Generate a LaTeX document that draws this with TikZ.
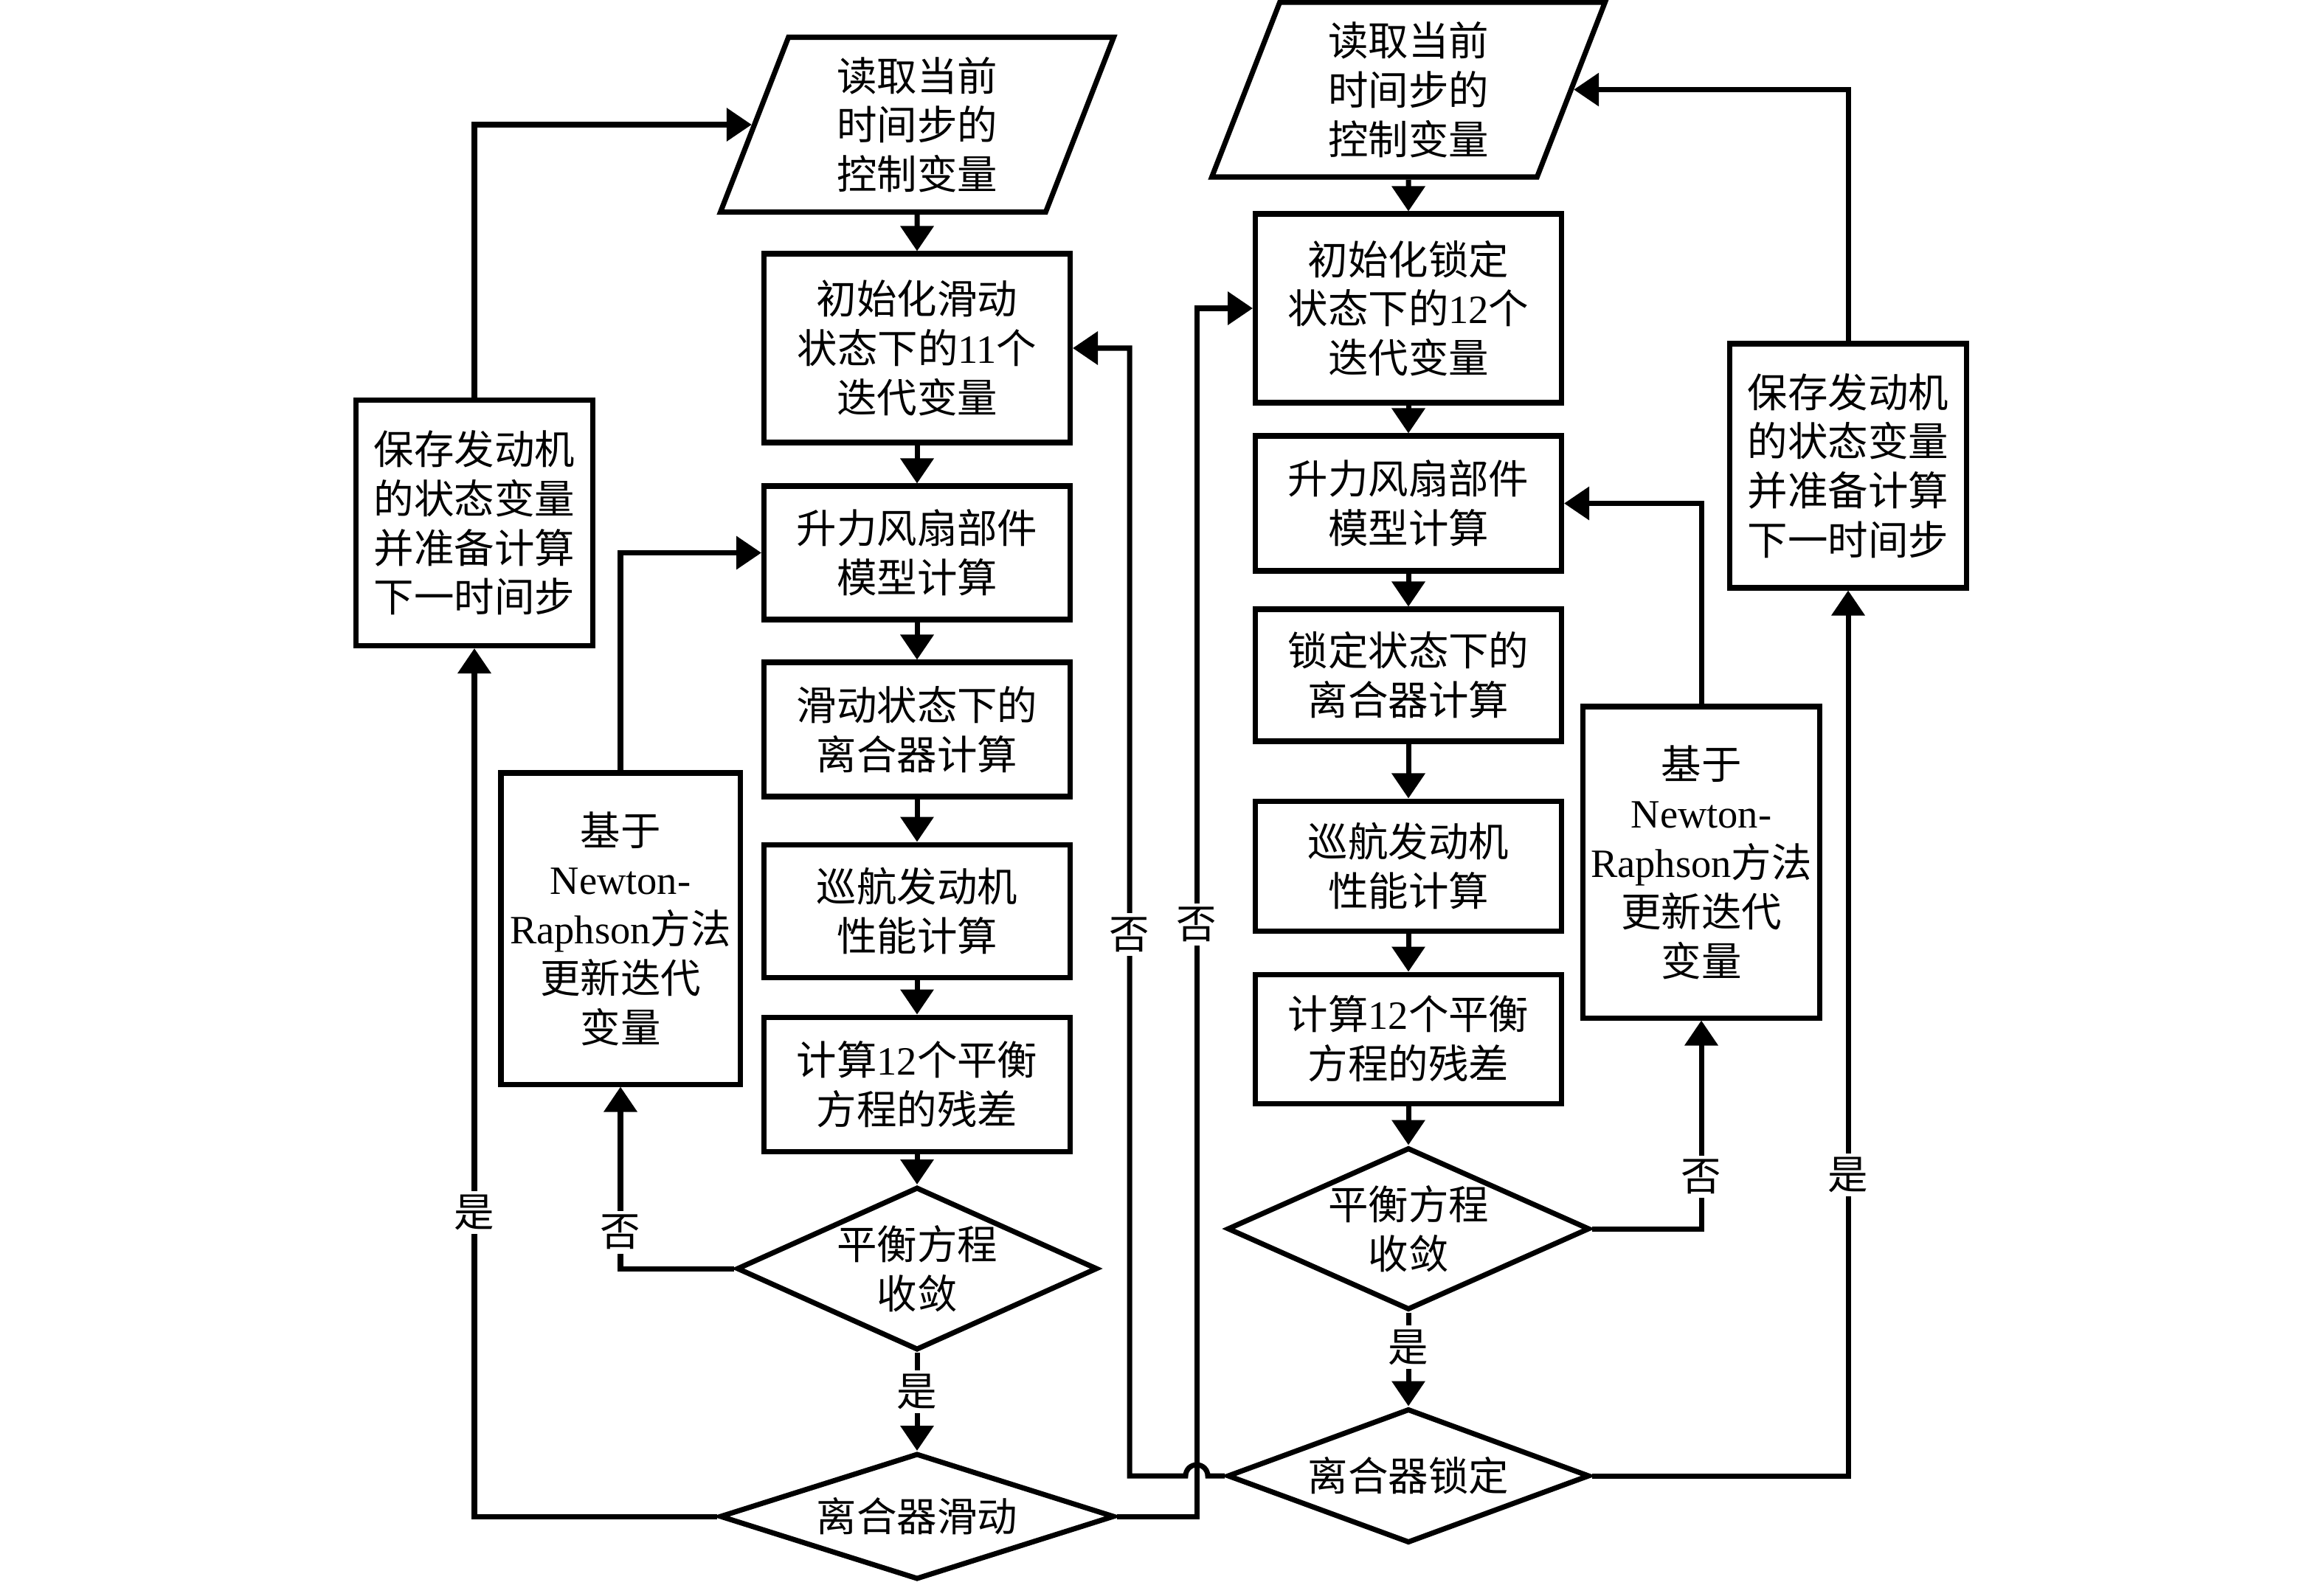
\documentclass[tikz,border=0pt]{standalone}
\usepackage{fontspec}
\setmainfont{Noto Sans CJK SC}
\newfontfamily\en{Liberation Serif}
\usepackage{tikz}
\usetikzlibrary{positioning}
\usetikzlibrary{shapes.geometric}
\usetikzlibrary{arrows.meta}

\begin{document}
\begin{tikzpicture}[font=\fontsize{15.5pt}{19pt}\selectfont,
    proc/.style={draw,line width=2pt,align=center,minimum width=4.15cm,inner sep=0pt},
    side/.style={draw,line width=2pt,align=center,minimum width=3.21cm,inner sep=0pt},
    io/.style={draw,line width=2pt,align=center,trapezium,trapezium left angle=63.4,
      trapezium right angle=116.6,trapezium stretches body,minimum width=5.33cm,
      minimum height=2.37cm,inner sep=0pt},
    decide/.style={draw,line width=2pt,align=center,diamond,inner sep=0pt},
    arr/.style={line width=2pt,-{Triangle[length=3.4mm,width=4.4mm]}},
    lab/.style={fill=white,inner sep=1.5pt}]
    \useasboundingbox (0,0) rectangle (31.5,-21.48);

    % sliding state
    \node[io] (readL) at (12.43,-1.69) {读取当前\\时间步的\\控制变量};
    \node[proc,minimum height=2.56cm] (initL) at (12.43,-4.72) {初始化滑动\\状态下的{\en 11}个\\迭代变量};
    \node[proc,minimum height=1.81cm] (fanL) at (12.43,-7.495) {升力风扇部件\\模型计算};
    \node[proc,minimum height=1.82cm] (clutchL) at (12.43,-9.89) {滑动状态下的\\离合器计算};
    \node[proc,minimum height=1.80cm] (cruiseL) at (12.43,-12.35) {巡航发动机\\性能计算};
    \node[proc,minimum height=1.82cm] (resL) at (12.43,-14.70) {计算{\en 12}个平衡\\方程的残差};
    \node[decide,minimum width=4.89cm,minimum height=2.21cm,shape aspect=2.21] (convL) at (12.43,-17.20) {平衡方程\\收敛};
    \node[decide,minimum width=5.35cm,minimum height=1.71cm,shape aspect=3.13] (slipL) at (12.43,-20.56) {离合器滑动};
    \node[side,minimum height=3.33cm] (saveL) at (6.43,-7.09) {保存发动机\\的状态变量\\并准备计算\\下一时间步};
    \node[side,minimum width=3.24cm,minimum height=4.22cm] (newtonL) at (8.41,-12.59) {基于\\{\en Newton-}\\{\en Raphson}方法\\更新迭代\\变量};

    % locked state
    \node[io] (readR) at (19.09,-1.215) {读取当前\\时间步的\\控制变量};
    \node[proc,minimum height=2.56cm] (initR) at (19.09,-4.18) {初始化锁定\\状态下的{\en 12}个\\迭代变量};
    \node[proc,minimum height=1.83cm] (fanR) at (19.09,-6.825) {升力风扇部件\\模型计算};
    \node[proc,minimum height=1.79cm] (clutchR) at (19.09,-9.155) {锁定状态下的\\离合器计算};
    \node[proc,minimum height=1.76cm] (cruiseR) at (19.09,-11.74) {巡航发动机\\性能计算};
    \node[proc,minimum height=1.75cm] (resR) at (19.09,-14.085) {计算{\en 12}个平衡\\方程的残差};
    \node[decide,minimum width=4.91cm,minimum height=2.20cm,shape aspect=2.23] (convR) at (19.09,-16.66) {平衡方程\\收敛};
    \node[decide,minimum width=4.91cm,minimum height=1.82cm,shape aspect=2.7] (lockR) at (19.09,-20.01) {离合器锁定};
    \node[side,minimum height=4.22cm] (newtonR) at (23.06,-11.69) {基于\\{\en Newton-}\\{\en Raphson}方法\\更新迭代\\变量};
    \node[side,minimum height=3.31cm] (saveR) at (25.05,-6.315) {保存发动机\\的状态变量\\并准备计算\\下一时间步};

    \coordinate (upR) at (16.22,-20.56);
    \coordinate (backL) at (15.31,-20.01);

    % left loop
    \draw[arr] (readL.south) -- (initL.north);
    \foreach \a/\b in {initL/fanL,fanL/clutchL,clutchL/cruiseL,cruiseL/resL,resL/convL}
        \draw[arr] (\a.south) -- (\b.north);
    \draw[arr] (convL.south) -- node[lab,pos=0.4]{是} (slipL.north);
    \draw[arr] (convL.west) -| node[lab,pos=0.6]{否} (newtonL.south);
    \draw[arr] (newtonL.north) |- (fanL.west);
    \draw[arr] (slipL.west) -| node[lab,pos=0.675]{是} (saveL.south);
    \draw[arr] (saveL.north) |- (readL.left side);
    \draw[arr] (slipL.east) -- (upR) -- node[lab,pos=0.49]{否} (upR |- initR.west) -- (initR.west);

    % right loop
    \draw[arr] (readR.south) -- (initR.north);
    \foreach \a/\b in {initR/fanR,fanR/clutchR,clutchR/cruiseR,cruiseR/resR,resR/convR}
        \draw[arr] (\a.south) -- (\b.north);
    \draw[arr] (convR.south) -- node[lab,pos=0.37]{是} (lockR.north);
    \draw[arr] (convR.east) -| node[lab,pos=0.625]{否} (newtonR.south);
    \draw[arr] (newtonR.north) |- (fanR.east);
    \draw[arr] (lockR.east) -| node[lab,pos=0.67]{是} (saveR.south);
    \draw[arr] (saveR.north) |- (readR.right side);
    \draw[arr] (lockR.west) -- ([xshift=0.15cm]upR |- lockR.west)
        arc[start angle=0,end angle=180,radius=0.15cm] -- (backL)
        -- node[lab,pos=0.48]{否} (backL |- initL.east) -- (initL.east);
\end{tikzpicture}
\end{document}
